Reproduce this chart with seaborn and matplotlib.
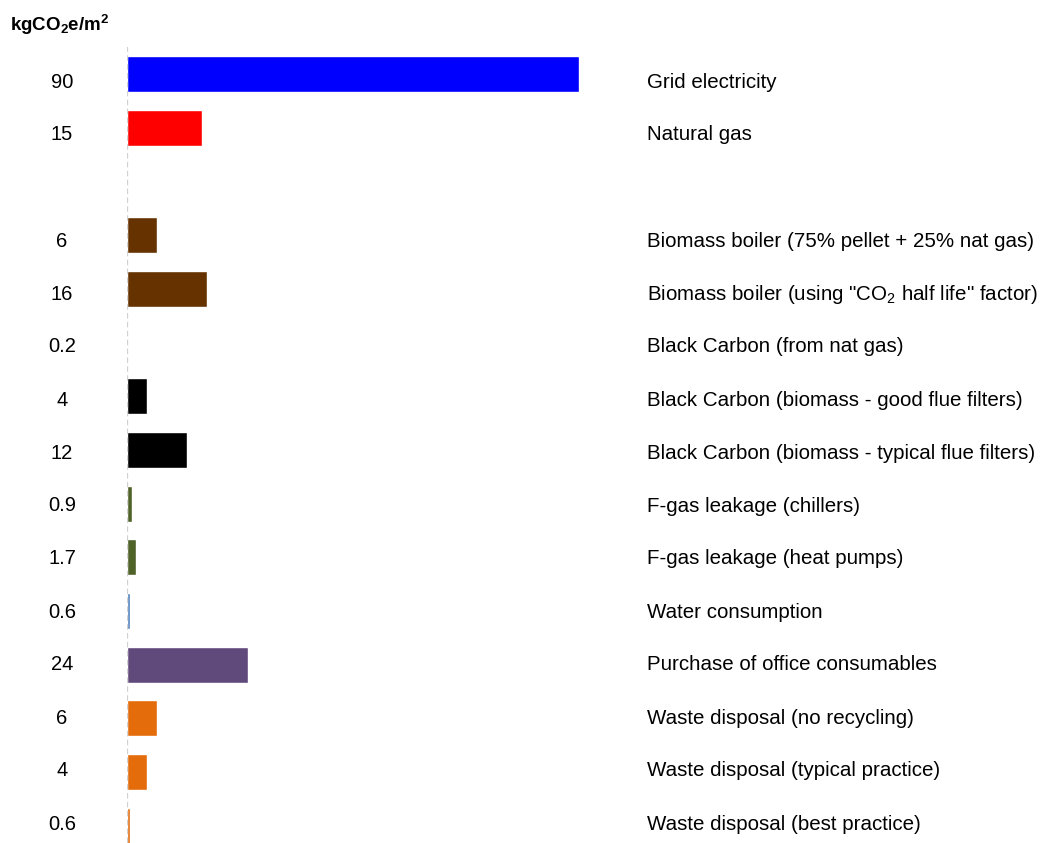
import matplotlib
matplotlib.use("Agg")
import matplotlib.pyplot as plt
import seaborn as sns
import pandas as pd
import numpy as np

categories = [
    "Grid electricity",
    "Natural gas",
    "",
    "Biomass boiler (75% pellet + 25% nat gas)",
    'Biomass boiler (using "CO$_2$ half life" factor)',
    "Black Carbon (from nat gas)",
    "Black Carbon (biomass - good flue filters)",
    "Black Carbon (biomass - typical flue filters)",
    "F-gas leakage (chillers)",
    "F-gas leakage (heat pumps)",
    "Water consumption",
    "Purchase of office consumables",
    "Waste disposal (no recycling)",
    "Waste disposal (typical practice)",
    "Waste disposal (best practice)",
]
values = [90, 15, np.nan, 6, 16, 0.2, 4, 12, 0.9, 1.7, 0.6, 24, 6, 4, 0.6]
value_labels = ["90", "15", "", "6", "16", "0.2", "4", "12", "0.9", "1.7", "0.6", "24", "6", "4", "0.6"]
colors = ["#0000FF", "#FF0000", "#FFFFFF", "#663300", "#663300", "#E46C0A", "#000000", "#000000",
          "#4F6228", "#4F6228", "#4F81BD", "#604A7B", "#E46C0A", "#E46C0A", "#E46C0A"]

sns.set_theme(style="white")
plt.rcParams["font.family"] = ["Liberation Sans", "DejaVu Sans"]
plt.rcParams["mathtext.fontset"] = "custom"
plt.rcParams["mathtext.rm"] = "Liberation Sans"
plt.rcParams["mathtext.it"] = "Liberation Sans:italic"
plt.rcParams["mathtext.bf"] = "Liberation Sans:bold"

W, H = 1050, 843
fig = plt.figure(figsize=(W / 100, H / 100), dpi=100)
x0, x90 = 127, 579
pitch = 53.7
first_center = 74
top_px = first_center - pitch / 2
ax = fig.add_axes([x0 / W, 0, (x90 - x0) / W, 1 - top_px / H])

df = pd.DataFrame({"cat": categories, "val": values})
sns.barplot(data=df, y="cat", x="val", hue="cat", order=categories, hue_order=categories,
            palette=colors, legend=False, saturation=1, width=0.67, ax=ax, orient="h")

ax.set_xlim(0, 90)
ax.set_ylim((H - first_center) / pitch, -0.5)
for s in ax.spines.values():
    s.set_visible(False)
ax.set_xticks([])
ax.set_yticks([])
ax.set_xlabel("")
ax.set_ylabel("")
ax.axvline(0, color="#d0d0d0", ls=(0, (2.5, 1.5)), lw=1.6, zorder=5)

# labels sit on their own row grid (slightly different pitch than bars, as in the reference)
label_first, label_pitch = 82, 53.0
for i, (cat, lab) in enumerate(zip(categories, value_labels)):
    yf = 1 - (label_first + label_pitch * i) / H
    if lab:
        fig.text(62 / W, yf, lab, ha="center", va="center", fontsize=14.5, color="black")
    if cat:
        fig.text(647 / W, yf, cat, ha="left", va="center", fontsize=14.8, color="black")

fig.text(10 / W, 1 - 25 / H, r"kgCO$_\mathbf{2}$e/m$^\mathbf{2}$", ha="left", va="center",
         fontsize=13.5, fontweight="bold", color="black")

fig.savefig("out.png", dpi=100)
